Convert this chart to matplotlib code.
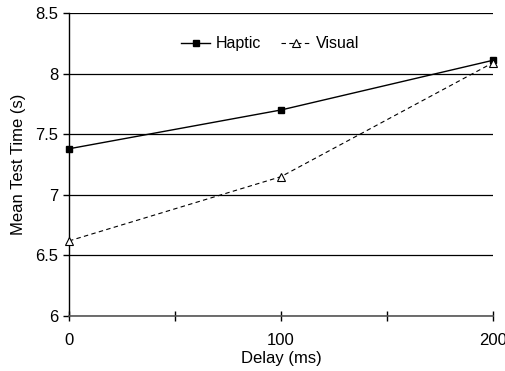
import numpy as np
import matplotlib.pyplot as plt

plt.rcParams['font.family'] = ['Liberation Sans', 'DejaVu Sans']

delay = [0, 100, 200]
haptic = [7.38, 7.70, 8.11]
visual = [6.62, 7.15, 8.09]

fig = plt.figure(figsize=(5.06, 3.71), dpi=100)
ax = fig.add_axes([0.1364, 0.148, 0.838, 0.817])

ax.plot(delay, haptic, '-', color='black', lw=1, marker='s', ms=5,
        mfc='black', mec='black', label='Haptic', clip_on=False, zorder=3)
ax.plot(delay, visual, '--', color='black', lw=0.8, dashes=(4, 3), marker='^',
        ms=6, mfc='white', mec='black', mew=0.8, label='Visual', clip_on=False, zorder=3)

ax.set_xlim(0, 200)
ax.set_ylim(6, 8.5)
ax.set_xticks([0, 100, 200])
ax.set_xticks([50, 150], minor=True)
ax.set_yticks([6, 6.5, 7, 7.5, 8, 8.5])
ax.set_yticklabels(['6', '6.5', '7', '7.5', '8', '8.5'])
ax.yaxis.grid(True, color='black', lw=0.9)
ax.set_axisbelow(True)

for s in ['top', 'right']:
    ax.spines[s].set_visible(False)
ax.spines['left'].set_linewidth(1)
ax.spines['bottom'].set_linewidth(1.2)
ax.spines['bottom'].set_color('#555555')

ax.tick_params(axis='x', which='both', direction='inout', length=7, width=1,
               labelsize=12, pad=9)
ax.tick_params(axis='y', direction='out', length=4, width=1, labelsize=12)

ax.set_xlabel('Delay (ms)', fontsize=12, labelpad=2)
ax.set_ylabel('Mean Test Time (s)', fontsize=12, labelpad=7)

ax.legend(loc='upper center', bbox_to_anchor=(0.474, 0.97), ncol=2, frameon=False,
          fontsize=11.5, handlelength=1.85, columnspacing=1.3, handletextpad=0.3)

fig.savefig('out.png', dpi=100)
